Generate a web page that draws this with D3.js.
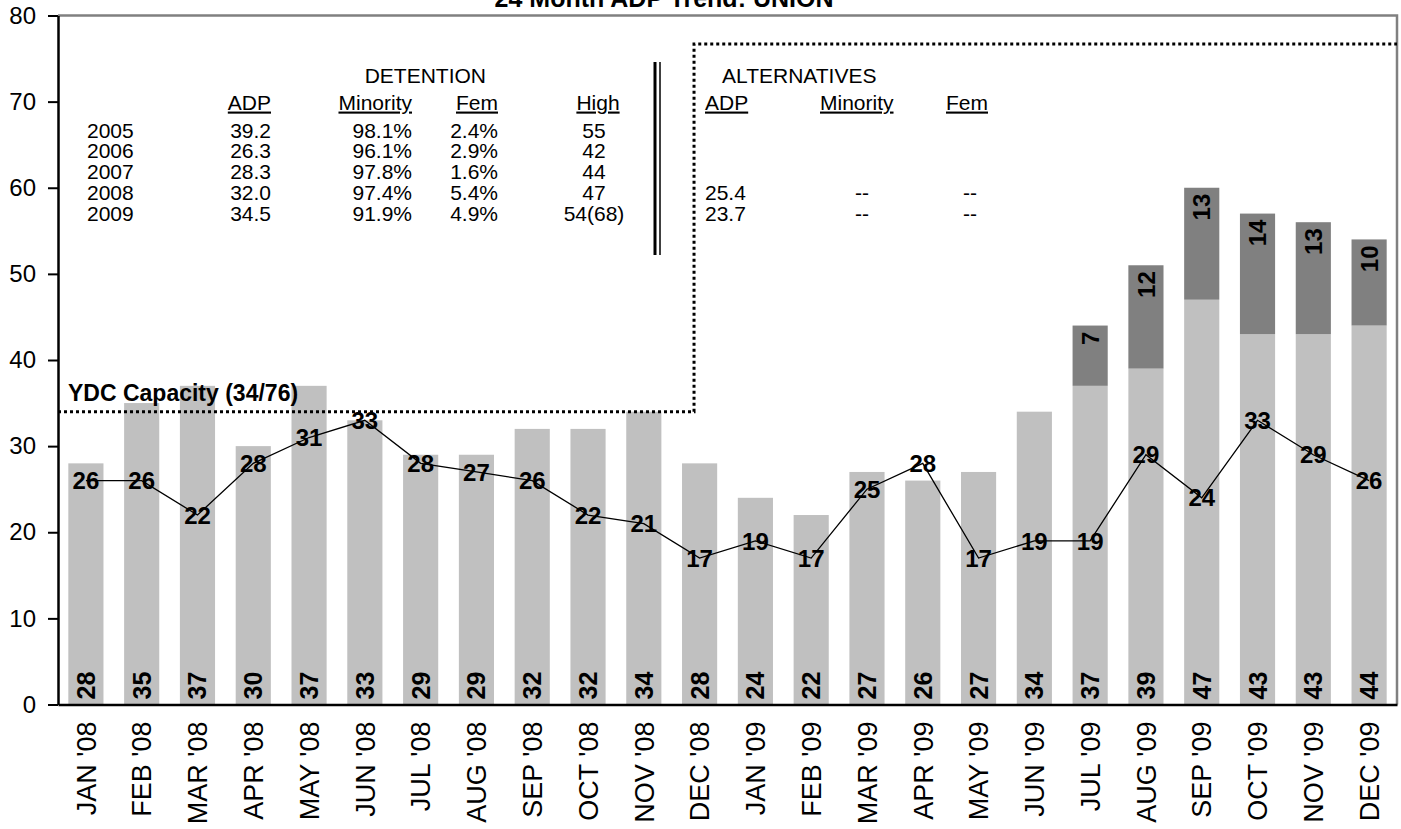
<!DOCTYPE html>
<html>
<head>
<meta charset="utf-8">
<script src="https://cdn.jsdelivr.net/npm/d3@7"></script>
<style>
  body { margin: 0; background: #fff; }
  svg { display: block; font-family: "Liberation Sans", Arial, sans-serif; }
</style>
</head>
<body>
<script>
// Chart data
var months = ["JAN '08", "FEB '08", "MAR '08", "APR '08", "MAY '08", "JUN '08", "JUL '08", "AUG '08",
  "SEP '08", "OCT '08", "NOV '08", "DEC '08", "JAN '09", "FEB '09", "MAR '09", "APR '09",
  "MAY '09", "JUN '09", "JUL '09", "AUG '09", "SEP '09", "OCT '09", "NOV '09", "DEC '09"];
var detention = [28, 35, 37, 30, 37, 33, 29, 29, 32, 32, 34, 28, 24, 22, 27, 26, 27, 34, 37, 39, 47, 43, 43, 44];
var alternatives = [0, 0, 0, 0, 0, 0, 0, 0, 0, 0, 0, 0, 0, 0, 0, 0, 0, 0, 7, 12, 13, 14, 13, 10];
var priorYear = [26, 26, 22, 28, 31, 33, 28, 27, 26, 22, 21, 17, 19, 17, 25, 28, 17, 19, 19, 29, 24, 33, 29, 26];
var yTicks = [0, 10, 20, 30, 40, 50, 60, 70, 80];

// YDC capacity step (low / high), step point in month units
var capacityLow = 34, capacityHigh = 76.7, capacityStepAt = 11.4;

// Summary table
var tableYears = ["2005", "2006", "2007", "2008", "2009"];
var detAdp = ["39.2", "26.3", "28.3", "32.0", "34.5"];
var detMinority = ["98.1%", "96.1%", "97.8%", "97.4%", "91.9%"];
var detFem = ["2.4%", "2.9%", "1.6%", "5.4%", "4.9%"];
var detHigh = ["55", "42", "44", "47", "54(68)"];
var altAdp = ["", "", "", "25.4", "23.7"];
var altMinority = ["", "", "", "--", "--"];
var altFem = ["", "", "", "--", "--"];

var width = 1401, height = 829;
var plot = { left: 58, right: 1397, top: 15.5, bottom: 704.5 };

var svg = d3.select("body").append("svg")
  .attr("width", width)
  .attr("height", height);

var x = d3.scaleBand()
  .domain(months)
  .range([plot.left, plot.right])
  .paddingInner(0.37)
  .paddingOuter(0.185);

var xi = d3.scaleLinear()
  .domain([0, months.length])
  .range([plot.left, plot.right]);

var y = d3.scaleLinear()
  .domain([0, 80])
  .range([plot.bottom, plot.top]);

function cx(i) { return x(months[i]) + x.bandwidth() / 2; }

// Title (cut off at the top, as in the original)
svg.append("text")
  .attr("x", 664)
  .attr("y", 7)
  .attr("text-anchor", "middle")
  .attr("font-size", 25)
  .attr("font-weight", "bold")
  .text("24 Month ADP Trend: UNION");

// Plot border (top / right)
svg.append("path")
  .attr("d", "M" + plot.left + "," + plot.top + "H" + plot.right + "V" + plot.bottom)
  .attr("fill", "none")
  .attr("stroke", "#808080")
  .attr("stroke-width", 2.5);

// Bars
var bars = svg.append("g");
bars.selectAll("rect.det")
  .data(detention)
  .enter().append("rect")
  .attr("class", "det")
  .attr("x", function(d, i) { return x(months[i]); })
  .attr("y", function(d) { return y(d); })
  .attr("width", x.bandwidth())
  .attr("height", function(d) { return y(0) - y(d); })
  .attr("fill", "#c0c0c0");

bars.selectAll("rect.alt")
  .data(alternatives)
  .enter().append("rect")
  .attr("class", "alt")
  .attr("x", function(d, i) { return x(months[i]); })
  .attr("y", function(d, i) { return y(detention[i] + d); })
  .attr("width", x.bandwidth())
  .attr("height", function(d, i) { return y(detention[i]) - y(detention[i] + d); })
  .attr("fill", "#808080");

// Bar labels (rotated)
svg.append("g").selectAll("text")
  .data(detention)
  .enter().append("text")
  .attr("transform", function(d, i) {
    return "translate(" + cx(i) + "," + (y(0) - 5) + ") rotate(-90)";
  })
  .attr("dy", "0.36em")
  .attr("font-size", 25)
  .attr("font-weight", "bold")
  .text(function(d) { return d; });

var altLabels = alternatives
  .map(function(d, i) { return { v: d, i: i }; })
  .filter(function(d) { return d.v > 0; });

svg.append("g").selectAll("text")
  .data(altLabels)
  .enter().append("text")
  .attr("transform", function(d) {
    return "translate(" + cx(d.i) + "," + (y(detention[d.i] + d.v) + 6) + ") rotate(-90)";
  })
  .attr("text-anchor", "end")
  .attr("dy", "0.36em")
  .attr("font-size", 24)
  .attr("font-weight", "bold")
  .text(function(d) { return d.v; });

// Capacity line
svg.append("path")
  .attr("d", "M" + plot.left + "," + y(capacityLow) +
    "H" + xi(capacityStepAt) + "V" + y(capacityHigh) + "H" + plot.right)
  .attr("fill", "none")
  .attr("stroke", "#000")
  .attr("stroke-width", 3)
  .attr("stroke-dasharray", "3,3");

svg.append("text")
  .attr("x", 68)
  .attr("y", y(capacityLow) - 19)
  .attr("dy", "0.36em")
  .attr("font-size", 23)
  .attr("font-weight", "bold")
  .text("YDC Capacity (" + capacityLow + "/76)");

// Prior year line
var line = d3.line()
  .x(function(d, i) { return cx(i); })
  .y(function(d) { return y(d); });

svg.append("path")
  .datum(priorYear)
  .attr("d", line)
  .attr("fill", "none")
  .attr("stroke", "#000")
  .attr("stroke-width", 1.3);

svg.append("g").selectAll("text")
  .data(priorYear)
  .enter().append("text")
  .attr("x", function(d, i) { return cx(i); })
  .attr("y", function(d) { return y(d); })
  .attr("dy", "0.36em")
  .attr("text-anchor", "middle")
  .attr("font-size", 24)
  .attr("font-weight", "bold")
  .text(function(d) { return d; });

// Axes
var yAxis = svg.append("g")
  .attr("transform", "translate(" + plot.left + ",0)")
  .call(d3.axisLeft(y).tickValues(yTicks).tickSize(10).tickSizeOuter(0).tickPadding(12));
yAxis.select(".domain").attr("stroke-width", 2.5);
yAxis.selectAll(".tick line").attr("stroke-width", 2);
yAxis.selectAll(".tick text")
  .attr("font-size", 24)
  .attr("font-family", "Liberation Sans, Arial, sans-serif")
  .attr("fill", "#000");

var xAxis = svg.append("g")
  .attr("transform", "translate(0," + plot.bottom + ")")
  .call(d3.axisBottom(x).tickSize(0).tickSizeOuter(0));
xAxis.select(".domain").attr("stroke-width", 2.5);
xAxis.selectAll(".tick text")
  .attr("transform", "rotate(-90)")
  .attr("x", -17)
  .attr("y", 0)
  .attr("dy", "0.36em")
  .attr("text-anchor", "end")
  .attr("font-size", 27)
  .attr("font-family", "Liberation Sans, Arial, sans-serif")
  .attr("fill", "#000");

// Summary table
var table = svg.append("g").attr("font-size", 21);

function cell(tx, ty, txt, anchor, underline) {
  var t = table.append("text")
    .attr("x", tx)
    .attr("y", ty)
    .attr("dy", "0.36em")
    .attr("text-anchor", anchor || "start")
    .text(txt);
  if (underline) t.attr("text-decoration", "underline");
  return t;
}

cell(486, 75, "DETENTION", "end");
cell(271, 102, "ADP", "end", true);
cell(412, 102, "Minority", "end", true);
cell(498, 102, "Fem", "end", true);
cell(598, 102, "High", "middle", true);

cell(722, 75, "ALTERNATIVES", "start");
cell(705, 102, "ADP", "start", true);
cell(820, 102, "Minority", "start", true);
cell(946, 102, "Fem", "start", true);

tableYears.forEach(function(yr, i) {
  var ry = 130 + i * 20.8;
  cell(87, ry, yr, "start");
  cell(271, ry, detAdp[i], "end");
  cell(412, ry, detMinority[i], "end");
  cell(498, ry, detFem[i], "end");
  cell(594, ry, detHigh[i], "middle");
  cell(705, ry, altAdp[i], "start");
  cell(862, ry, altMinority[i], "middle");
  cell(970, ry, altFem[i], "middle");
});

// Double separator
table.append("line")
  .attr("x1", 655).attr("x2", 655).attr("y1", 62).attr("y2", 255)
  .attr("stroke", "#000").attr("stroke-width", 3);
table.append("line")
  .attr("x1", 660).attr("x2", 660).attr("y1", 62).attr("y2", 255)
  .attr("stroke", "#000").attr("stroke-width", 1.5);
</script>
</body>
</html>
